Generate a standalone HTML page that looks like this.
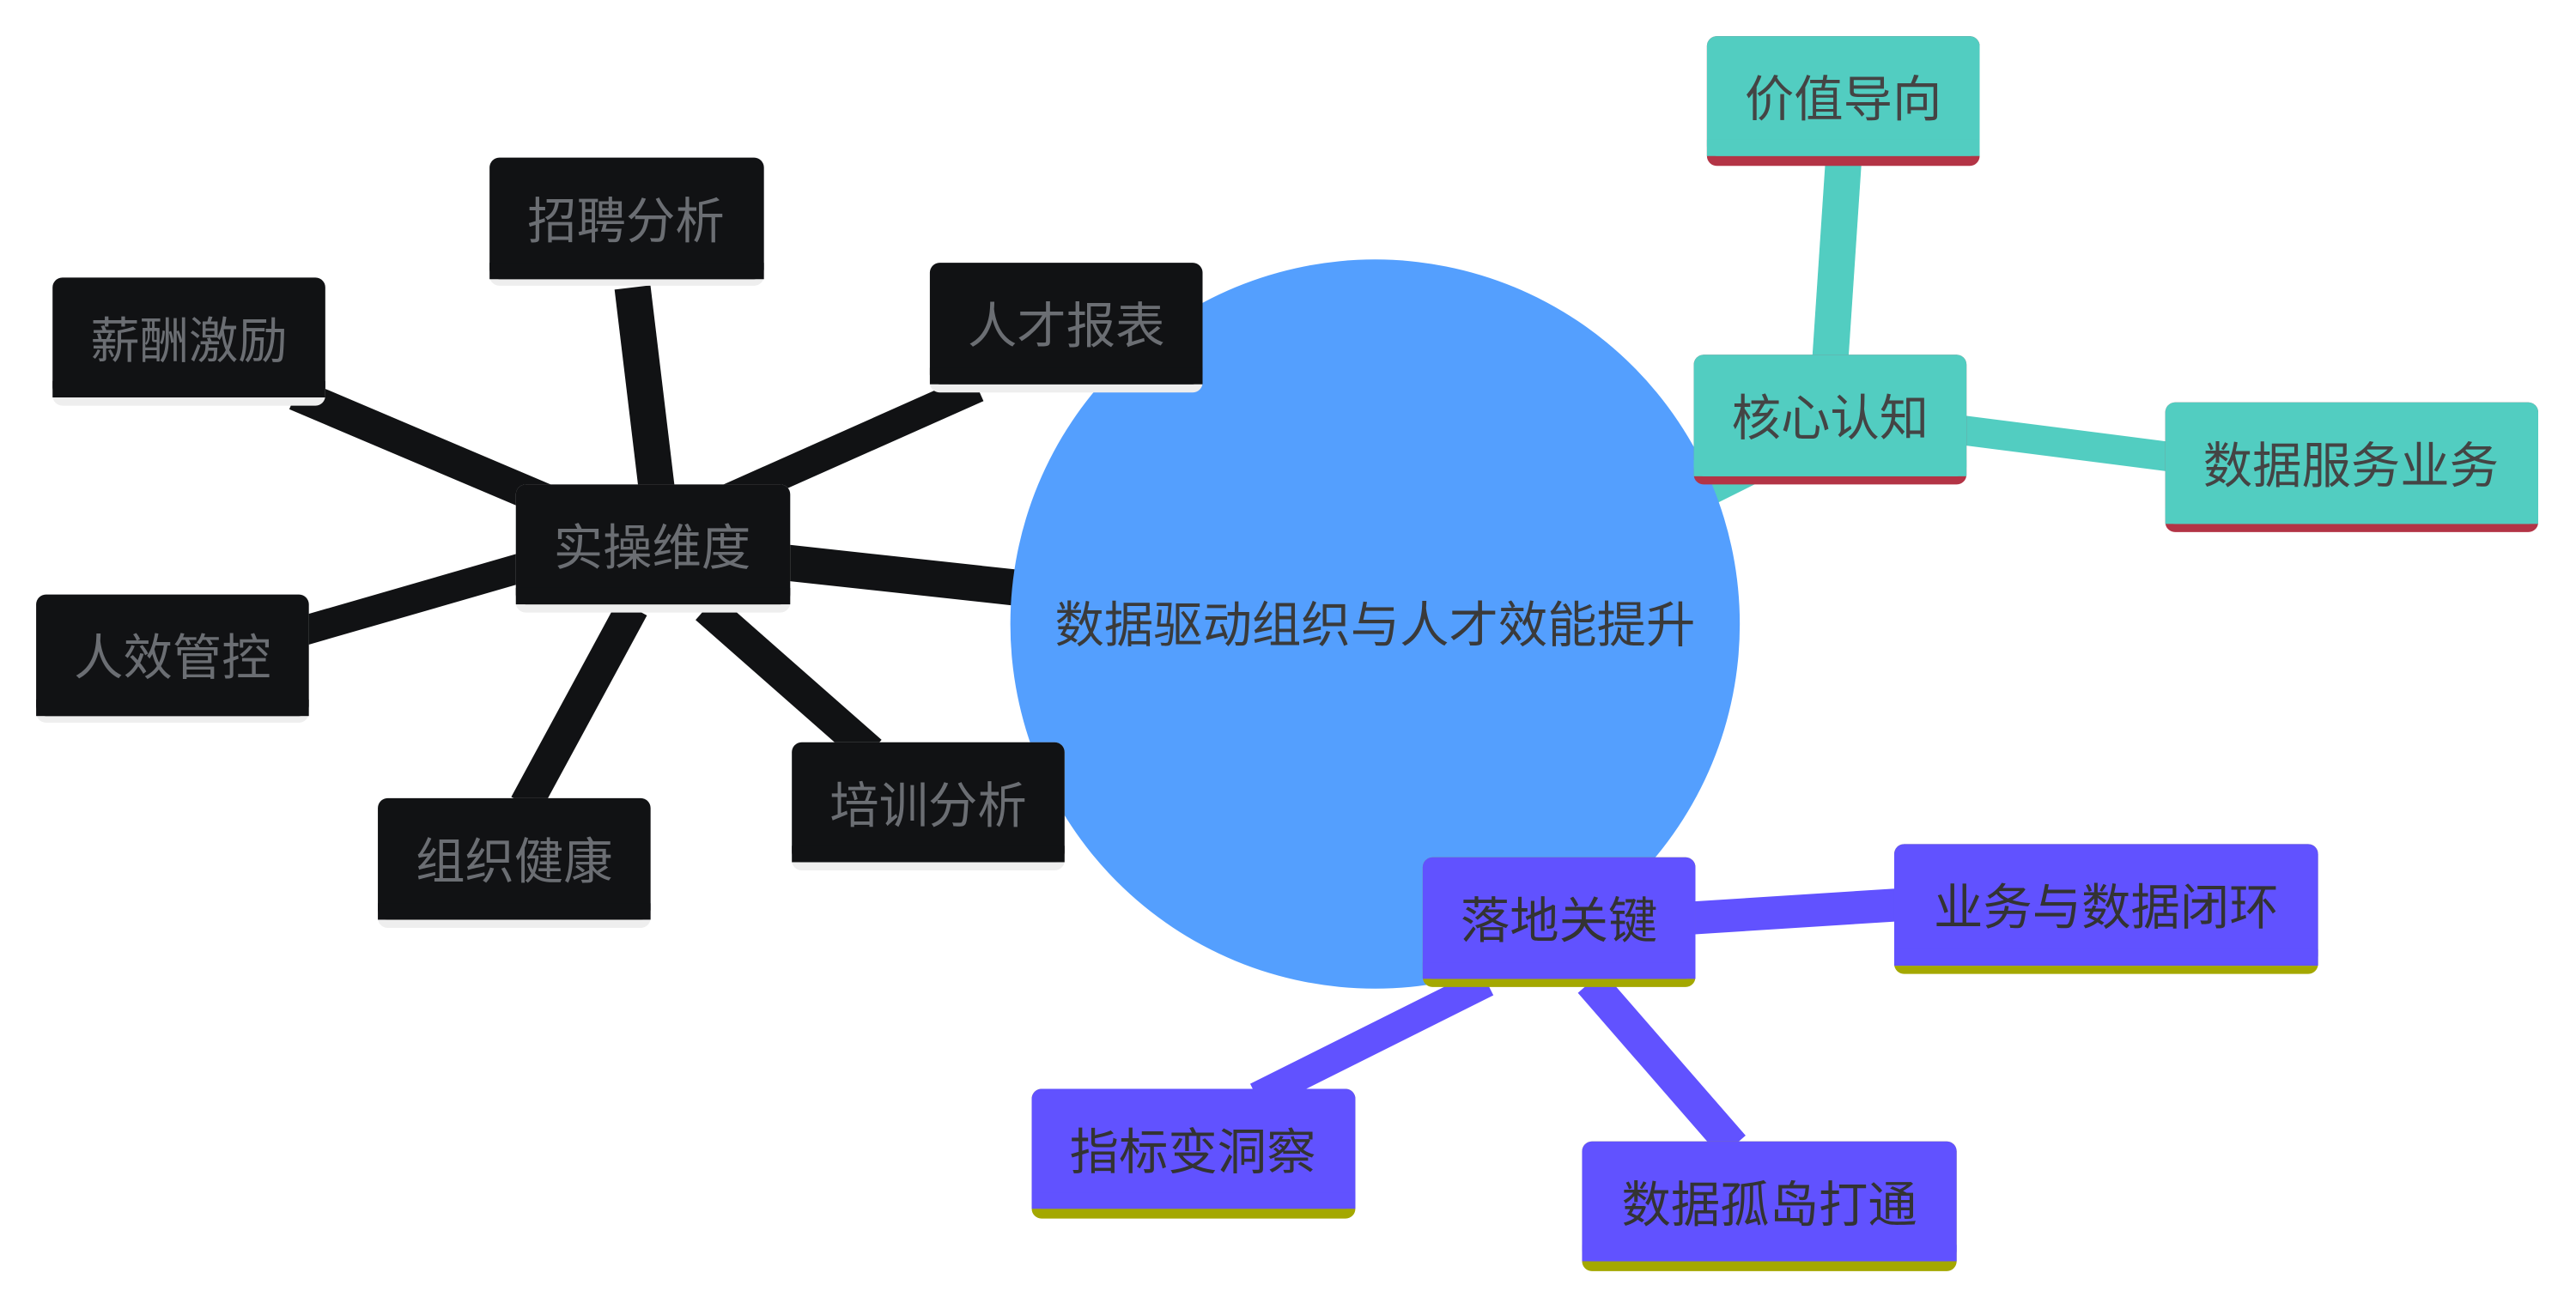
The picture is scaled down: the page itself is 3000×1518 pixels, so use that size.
<!DOCTYPE html>
<html><head><meta charset="utf-8"><style>
html,body{margin:0;padding:0;background:#fff;width:3000px;height:1518px;overflow:hidden}
svg text{font-family:"Liberation Sans","Noto Sans CJK SC",sans-serif;font-size:30px;dominant-baseline:central;text-anchor:middle}
</style></head><body>
<svg width="3000" height="1518" viewBox="0 0 1568 793.4" preserveAspectRatio="none" xmlns="http://www.w3.org/2000/svg">
<g stroke-linecap="butt" fill="none">
<line x1="620" y1="358" x2="400" y2="334" stroke="#111214" stroke-width="22"/>
<line x1="385" y1="175" x2="400" y2="300" stroke="#111214" stroke-width="22"/>
<line x1="180" y1="240" x2="345" y2="310" stroke="#111214" stroke-width="20"/>
<line x1="595" y1="236" x2="440" y2="305" stroke="#111214" stroke-width="18"/>
<line x1="185" y1="384" x2="320" y2="345" stroke="#111214" stroke-width="18"/>
<line x1="320" y1="490" x2="385" y2="370" stroke="#111214" stroke-width="20"/>
<line x1="530" y1="458" x2="430" y2="370" stroke="#111214" stroke-width="20"/>
<line x1="1040" y1="300" x2="1110" y2="265" stroke="#52cdc1" stroke-width="16"/>
<line x1="1122" y1="100" x2="1114" y2="220" stroke="#52cdc1" stroke-width="22"/>
<line x1="1195" y1="262" x2="1320" y2="278" stroke="#52cdc1" stroke-width="18"/>
<line x1="1030" y1="559" x2="1155" y2="551" stroke="#6152ff" stroke-width="20"/>
<line x1="905" y1="598" x2="765" y2="668" stroke="#6152ff" stroke-width="18"/>
<line x1="968" y1="598" x2="1055" y2="698" stroke="#6152ff" stroke-width="20"/>
</g>
<circle cx="837" cy="380" r="222" fill="#549ffe"/>
<text x="837" y="381" fill="#3a3a3a">数据驱动组织与人才效能提升</text>

<g>
<rect x="314" y="295" width="167" height="78" rx="6" fill="#eeeeee"/><rect x="314" y="295" width="167" height="73" rx="6" fill="#111214"/><rect x="314" y="358" width="167" height="10" fill="#111214"/><text x="397" y="334" fill="#6b6e73">实操维度</text>
<rect x="298" y="96" width="167" height="78" rx="6" fill="#eeeeee"/><rect x="298" y="96" width="167" height="74" rx="6" fill="#111214"/><rect x="298" y="160" width="167" height="10" fill="#111214"/><text x="381" y="135" fill="#6b6e73">招聘分析</text>
<rect x="32" y="169" width="166" height="78" rx="6" fill="#eeeeee"/><rect x="32" y="169" width="166" height="73" rx="6" fill="#111214"/><rect x="32" y="232" width="166" height="10" fill="#111214"/><text x="115" y="208" fill="#6b6e73">薪酬激励</text>
<rect x="566" y="160" width="166" height="79" rx="6" fill="#eeeeee"/><rect x="566" y="160" width="166" height="74" rx="6" fill="#111214"/><rect x="566" y="224" width="166" height="10" fill="#111214"/><text x="649" y="199" fill="#6b6e73">人才报表</text>
<rect x="22" y="362" width="166" height="78" rx="6" fill="#eeeeee"/><rect x="22" y="362" width="166" height="74" rx="6" fill="#111214"/><rect x="22" y="426" width="166" height="10" fill="#111214"/><text x="105" y="401" fill="#6b6e73">人效管控</text>
<rect x="230" y="486" width="166" height="79" rx="6" fill="#eeeeee"/><rect x="230" y="486" width="166" height="74" rx="6" fill="#111214"/><rect x="230" y="550" width="166" height="10" fill="#111214"/><text x="313" y="525" fill="#6b6e73">组织健康</text>
<rect x="482" y="452" width="166" height="78" rx="6" fill="#eeeeee"/><rect x="482" y="452" width="166" height="73" rx="6" fill="#111214"/><rect x="482" y="515" width="166" height="10" fill="#111214"/><text x="565" y="491" fill="#6b6e73">培训分析</text>
<rect x="1039" y="22" width="166" height="79" rx="6" fill="#b33446"/><rect x="1039" y="22" width="166" height="73" rx="6" fill="#52cdc1"/><rect x="1039" y="85" width="166" height="10" fill="#52cdc1"/><text x="1122" y="61" fill="#444">价值导向</text>
<rect x="1031" y="216" width="166" height="79" rx="6" fill="#b33446"/><rect x="1031" y="216" width="166" height="74" rx="6" fill="#52cdc1"/><rect x="1031" y="280" width="166" height="10" fill="#52cdc1"/><text x="1114" y="255" fill="#444">核心认知</text>
<rect x="1318" y="245" width="227" height="79" rx="6" fill="#b33446"/><rect x="1318" y="245" width="227" height="74" rx="6" fill="#52cdc1"/><rect x="1318" y="309" width="227" height="10" fill="#52cdc1"/><text x="1431" y="284" fill="#444">数据服务业务</text>
<rect x="866" y="522" width="166" height="79" rx="6" fill="#a4a800"/><rect x="866" y="522" width="166" height="74" rx="6" fill="#6152ff"/><rect x="866" y="586" width="166" height="10" fill="#6152ff"/><text x="949" y="561" fill="#333">落地关键</text>
<rect x="1153" y="514" width="258" height="79" rx="6" fill="#a4a800"/><rect x="1153" y="514" width="258" height="74" rx="6" fill="#6152ff"/><rect x="1153" y="578" width="258" height="10" fill="#6152ff"/><text x="1282" y="553" fill="#333">业务与数据闭环</text>
<rect x="628" y="663" width="197" height="79" rx="6" fill="#a4a800"/><rect x="628" y="663" width="197" height="73" rx="6" fill="#6152ff"/><rect x="628" y="726" width="197" height="10" fill="#6152ff"/><text x="726" y="702" fill="#333">指标变洞察</text>
<rect x="963" y="695" width="228" height="79" rx="6" fill="#a4a800"/><rect x="963" y="695" width="228" height="73" rx="6" fill="#6152ff"/><rect x="963" y="758" width="228" height="10" fill="#6152ff"/><text x="1077" y="734" fill="#333">数据孤岛打通</text>
</g>
</svg>
</body></html>
